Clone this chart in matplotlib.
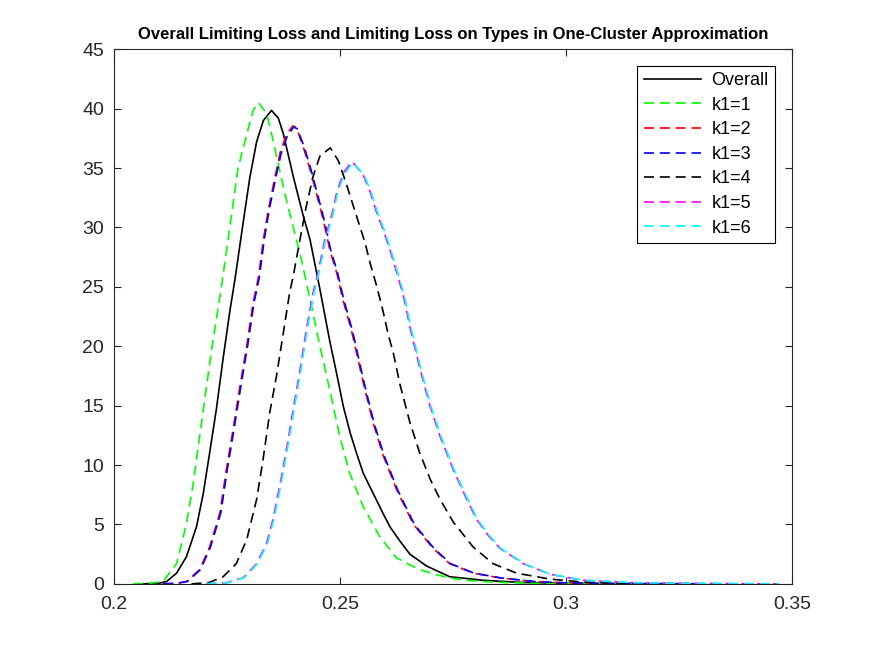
import matplotlib
matplotlib.use("Agg")
import matplotlib.pyplot as plt

plt.rcParams['font.family'] = ['Liberation Sans', 'DejaVu Sans']

# ---- data ----
x_overall = [0.2065, 0.2100, 0.2117, 0.2139, 0.2161, 0.2183, 0.2198, 0.2212, 0.2227, 0.2242,
             0.2257, 0.2268, 0.2287, 0.2301, 0.2316, 0.2331, 0.2349, 0.2364, 0.2375, 0.2397,
             0.2419, 0.2434, 0.2456, 0.2478, 0.2493, 0.2508, 0.2523, 0.2537, 0.2552, 0.2574,
             0.2596, 0.2611, 0.2633, 0.2655, 0.2692, 0.2743, 0.2817, 0.2900, 0.3000, 0.3100,
             0.3250]
y_overall = [0, 0.05, 0.2, 0.9, 2.3, 4.8, 7.6, 11.0, 14.7, 19.0,
             23.0, 25.6, 30.6, 34.2, 37.2, 39.0, 39.85, 39.2, 37.9, 34.3,
             31.0, 29.0, 24.8, 20.4, 17.7, 14.9, 12.7, 11.0, 9.3, 7.6,
             5.9, 4.8, 3.6, 2.5, 1.5, 0.6, 0.3, 0.12, 0.05, 0.02,
             0]

x_k1 = [0.2043, 0.2080, 0.2109, 0.2139, 0.2161, 0.2176, 0.2190, 0.2205, 0.2220, 0.2239,
        0.2257, 0.2275, 0.2298, 0.2309, 0.2320, 0.2338, 0.2352, 0.2367, 0.2382, 0.2397,
        0.2412, 0.2423, 0.2434, 0.2456, 0.2478, 0.2500, 0.2522, 0.2552, 0.2588, 0.2625,
        0.2655, 0.2677, 0.2710, 0.2743, 0.2780, 0.2817, 0.2870, 0.2930, 0.3000, 0.3100,
        0.3200]
y_k1 = [0, 0.05, 0.2, 1.7, 5.1, 8.5, 12.4, 16.6, 20.6, 25.2,
        30.1, 35.0, 38.4, 39.9, 40.5, 39.6, 37.4, 34.8, 32.3, 30.0,
        27.8, 25.9, 24.0, 20.0, 16.3, 12.4, 9.3, 6.5, 4.0, 2.2,
        1.6, 1.2, 0.8, 0.5, 0.3, 0.2, 0.1, 0.05, 0.02, 0.01,
        0]

x_k2 = [0.2108, 0.2140, 0.2161, 0.2190, 0.2212, 0.2235, 0.2249, 0.2264, 0.2279, 0.2294,
        0.2308, 0.2320, 0.2331, 0.2342, 0.2357, 0.2368, 0.2382, 0.2396, 0.2404, 0.2419,
        0.2434, 0.2448, 0.2463, 0.2478, 0.2493, 0.2507, 0.2526, 0.2552, 0.2574, 0.2596,
        0.2626, 0.2663, 0.2706, 0.2743, 0.2795, 0.2854, 0.2927, 0.3000, 0.3100, 0.3300]
y_k2 = [0, 0.05, 0.2, 1.2, 3.1, 6.0, 9.6, 13.0, 16.6, 20.0,
        23.6, 25.8, 29.0, 31.5, 34.3, 36.3, 37.8, 38.55, 38.4, 36.8,
        34.9, 32.9, 30.7, 28.1, 26.2, 23.9, 21.3, 16.9, 13.5, 10.8,
        7.9, 5.0, 3.0, 1.7, 0.9, 0.5, 0.2, 0.08, 0.03, 0]

x_k3 = [0.2110, 0.2142, 0.2163, 0.2192, 0.2214, 0.2237, 0.2251, 0.2266, 0.2281, 0.2296,
        0.2310, 0.2322, 0.2333, 0.2344, 0.2359, 0.2370, 0.2384, 0.2398, 0.2406, 0.2421,
        0.2436, 0.2450, 0.2465, 0.2480, 0.2495, 0.2509, 0.2528, 0.2554, 0.2576, 0.2598,
        0.2628, 0.2665, 0.2708, 0.2745, 0.2797, 0.2856, 0.2929, 0.3002, 0.3102, 0.3302]
y_k3 = [0, 0.05, 0.2, 1.2, 3.1, 6.0, 9.6, 13.0, 16.6, 20.0,
        23.6, 25.8, 29.0, 31.5, 34.3, 36.2, 37.7, 38.45, 38.3, 36.8,
        34.9, 32.9, 30.7, 28.1, 26.2, 23.9, 21.3, 16.9, 13.5, 10.8,
        7.9, 5.0, 3.0, 1.7, 0.9, 0.5, 0.2, 0.08, 0.03, 0]

x_k4 = [0.2172, 0.2210, 0.2242, 0.2271, 0.2294, 0.2316, 0.2330, 0.2345, 0.2360, 0.2375,
        0.2389, 0.2397, 0.2412, 0.2426, 0.2441, 0.2456, 0.2479, 0.2497, 0.2515, 0.2530,
        0.2545, 0.2556, 0.2567, 0.2582, 0.2596, 0.2607, 0.2618, 0.2633, 0.2655, 0.2677,
        0.2700, 0.2722, 0.2751, 0.2795, 0.2839, 0.2891, 0.2965, 0.3038, 0.3111, 0.3200,
        0.3350]
y_k4 = [0, 0.1, 0.6, 1.7, 3.7, 7.1, 10.4, 14.4, 17.5, 21.1,
        24.5, 25.9, 29.0, 31.8, 34.3, 36.0, 36.7, 35.6, 33.6, 31.8,
        30.0, 28.7, 27.0, 25.0, 22.9, 21.0, 19.5, 16.8, 13.6, 11.0,
        8.8, 7.1, 5.2, 3.1, 1.7, 0.9, 0.4, 0.15, 0.05, 0.02,
        0]

x_k5 = [0.2204, 0.2250, 0.2286, 0.2316, 0.2338, 0.2352, 0.2367, 0.2382, 0.2397, 0.2412,
        0.2426, 0.2441, 0.2452, 0.2467, 0.2482, 0.2493, 0.2508, 0.2527, 0.2552, 0.2567,
        0.2582, 0.2596, 0.2611, 0.2626, 0.2641, 0.2657, 0.2678, 0.2700, 0.2722, 0.2751,
        0.2781, 0.2803, 0.2830, 0.2854, 0.2906, 0.2965, 0.3038, 0.3150, 0.3250, 0.3470]
y_k5 = [0, 0.1, 0.5, 1.7, 3.4, 5.4, 8.2, 11.3, 14.7, 18.0,
        21.4, 24.5, 26.2, 29.0, 31.0, 32.9, 34.6, 35.55, 34.4, 33.0,
        31.2, 29.8, 28.1, 26.2, 24.2, 21.3, 18.0, 14.9, 12.4, 9.6,
        7.1, 5.4, 4.0, 3.0, 1.7, 0.8, 0.3, 0.1, 0.04, 0]

x_k6 = [0.2206, 0.2252, 0.2288, 0.2318, 0.2340, 0.2354, 0.2369, 0.2384, 0.2399, 0.2414,
        0.2428, 0.2443, 0.2454, 0.2469, 0.2484, 0.2495, 0.2510, 0.2529, 0.2554, 0.2569,
        0.2584, 0.2598, 0.2613, 0.2628, 0.2643, 0.2659, 0.2680, 0.2702, 0.2724, 0.2753,
        0.2783, 0.2805, 0.2832, 0.2856, 0.2908, 0.2967, 0.3040, 0.3152, 0.3252, 0.3472]
y_k6 = [0, 0.1, 0.5, 1.7, 3.4, 5.4, 8.2, 11.3, 14.7, 18.0,
        21.4, 24.5, 26.2, 29.0, 31.0, 32.9, 34.5, 35.45, 34.4, 33.0,
        31.2, 29.8, 28.1, 26.2, 24.2, 21.3, 18.0, 14.9, 12.4, 9.6,
        7.1, 5.4, 4.0, 3.0, 1.7, 0.8, 0.3, 0.1, 0.04, 0]

labels = ["Overall", "k1=1", "k1=2", "k1=3", "k1=4", "k1=5", "k1=6"]
colors = ["#000000", "#00FF00", "#FF0000", "#0000FF", "#000000", "#FF00FF", "#00FFFF"]
xs = [x_overall, x_k1, x_k2, x_k3, x_k4, x_k5, x_k6]
ys = [y_overall, y_k1, y_k2, y_k3, y_k4, y_k5, y_k6]

xticks = [0.2, 0.25, 0.3, 0.35]
xticklabels = ["0.2", "0.25", "0.3", "0.35"]
yticks = list(range(0, 46, 5))

# ---- figure ----
fig = plt.figure(figsize=(8.75, 6.56), dpi=100)
ax = fig.add_axes([0.13, 0.11, 0.775, 0.815])

for i, (x, y, c, lab) in enumerate(zip(xs, ys, colors, labels)):
    if i == 0:
        ax.plot(x, y, color=c, lw=1.2, label=lab)
    else:
        ax.plot(x, y, color=c, lw=1.2, ls=(0, (6, 3.5)), label=lab)

ax.set_xlim(0.2, 0.35)
ax.set_ylim(0, 45)
ax.set_xticks(xticks)
ax.set_xticklabels(xticklabels)
ax.set_yticks(yticks)

axcol = "#262626"
for s in ax.spines.values():
    s.set_color(axcol)
    s.set_linewidth(0.8)
ax.tick_params(direction="in", top=True, right=True, length=5, width=0.8,
               colors=axcol, labelsize=14, pad=7)
ax.tick_params(axis="x", pad=9)

ax.set_title("Overall Limiting Loss and Limiting Loss on Types in One-Cluster Approximation",
             fontsize=12, fontweight="bold", pad=7, color="black")

leg = ax.legend(loc="upper right", bbox_to_anchor=(0.975, 0.969), borderaxespad=0,
                fontsize=13, handlelength=3.2, handletextpad=0.55, labelspacing=0.42,
                borderpad=0.35, fancybox=False, framealpha=1, edgecolor="black")
leg.get_frame().set_linewidth(0.8)

fig.savefig("out.png", dpi=100)
